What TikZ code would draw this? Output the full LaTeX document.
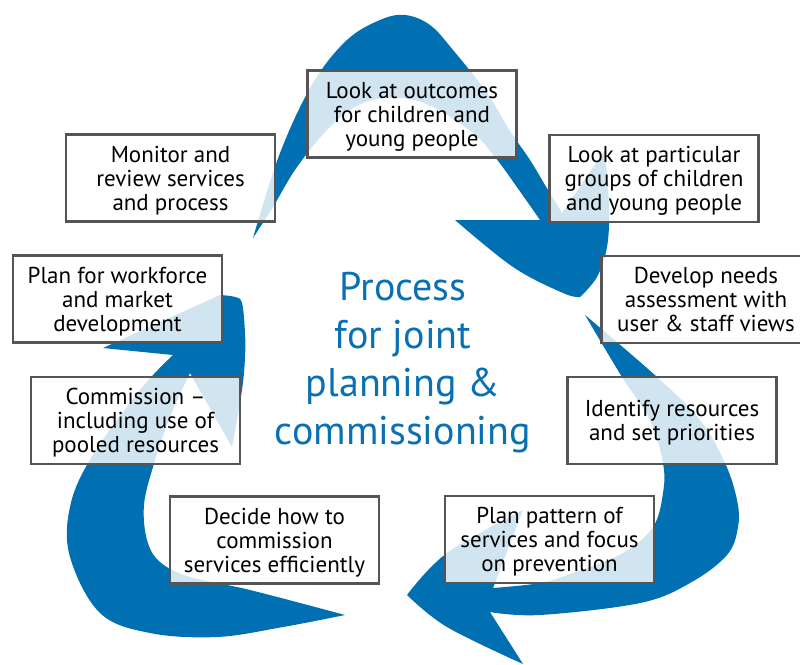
\documentclass[tikz,border=0pt]{standalone}
\usepackage{fontspec}
\setmainfont{PT Sans}
\definecolor{arrowblue}{HTML}{0070B2}
\definecolor{titleblue}{HTML}{0A70B4}
\definecolor{boxline}{HTML}{555555}
\newcommand\mytopstrut{\rule{0pt}{22pt}}
\newcommand\mybotstrut{\rule[-6pt]{0pt}{6pt}}
\begin{document}
\begin{tikzpicture}[x=1pt,y=-1pt,
  bigarrow/.style={fill=arrowblue},
  stepbox/.style={draw=boxline, line width=2.2pt, fill=white, fill opacity=0.82, text opacity=1,
    minimum width=209pt, minimum height=87pt, inner sep=0pt, align=center,
    font=\fontsize{23}{24}\selectfont, text=black},
  titletext/.style={align=center, text=titleblue, font=\fontsize{40}{48}\selectfont}
]
\clip (0,0) rectangle (800,664);
\fill[white] (0,0) rectangle (800,664);

% top arrow
\fill[bigarrow] plot[smooth, tension=0.6] coordinates {(253,238) (280,153) (313,83) (347,40) (380,20) (405,15) (430,25) (453,50) (487,93) (510,131) (530,160) (548,190) (562,213)}
  -- (605,150)
  -- plot[smooth, tension=0.6] coordinates {(605,150) (609,207) (607,247) (597,277) (580,297)}
  -- plot[smooth, tension=0.6] coordinates {(580,297) (563,293) (513,267) (455,220)}
  -- (540,220)
  -- plot[smooth, tension=0.6] coordinates {(540,220) (519,190) (495,157) (473,133) (433,107) (400,98) (363,103) (330,127) (297,167) (273,207) (253,238)}
  -- cycle;

% right arrow
\fill[bigarrow] plot[smooth, tension=0.6] coordinates {(585,315) (657,377) (700,420) (725,463) (737,500) (738,527) (727,555) (690,583) (640,603) (540,615) (490,612)}
  -- (523,664)
  -- plot[smooth, tension=0.6] coordinates {(523,664) (447,627) (407,595)}
  -- plot[smooth, tension=0.6] coordinates {(407,595) (447,553) (523,510)}
  -- (493,588)
  -- plot[smooth, tension=0.6] coordinates {(493,588) (540,583) (573,573) (623,553) (653,527) (663,493) (663,463) (650,420) (622,377) (585,315)}
  -- cycle;

% left arrow
\fill[bigarrow] plot[smooth, tension=0.6] coordinates {(345,615) (283,627) (217,637) (150,633) (100,613) (70,557) (70,507) (91,458) (140,390) (173,355)}
  -- (103,348)
  -- (220,295)
  -- plot[smooth, tension=0.6] coordinates {(220,295) (235,297) (242,303) (245,333) (245,357) (242,390) (232,447)}
  -- (190,373)
  -- plot[smooth, tension=0.6] coordinates {(190,373) (170,417) (153,467) (144,505) (147,540) (160,562) (190,577) (250,590) (345,615)}
  -- cycle;

% boxes
\node[stepbox] (outcomes) at (412,114) {\mytopstrut Look at outcomes\\for children and\\young people\mybotstrut};
\node[stepbox] (groups) at (654,178.5) {\mytopstrut Look at particular\\groups of children\\and young people\mybotstrut};
\node[stepbox] (needs) at (706,299.5) {\mytopstrut Develop needs\\assessment with\\user \& staff views\mybotstrut};
\node[stepbox] (resources) at (672,420.5) {\mytopstrut Identify resources\\and set priorities\mybotstrut};
\node[stepbox] (pattern) at (549.5,539.5) {\mytopstrut Plan pattern of\\services and focus\\on prevention\mybotstrut};
\node[stepbox] (decide) at (274.5,540) {\mytopstrut Decide how to\\commission\\services efficiently\mybotstrut};
\node[stepbox] (commission) at (135.5,420.5) {\mytopstrut Commission –\\including use of\\pooled resources\mybotstrut};
\node[stepbox] (workforce) at (117.5,299) {\mytopstrut Plan for workforce\\and market\\development\mybotstrut};
\node[stepbox] (monitor) at (170.5,178) {\mytopstrut Monitor and\\review services\\and process\mybotstrut};

% title
\node[titletext] (title) at (403,363) {Process\\for joint\\planning \&\\commissioning};
\end{tikzpicture}
\end{document}
